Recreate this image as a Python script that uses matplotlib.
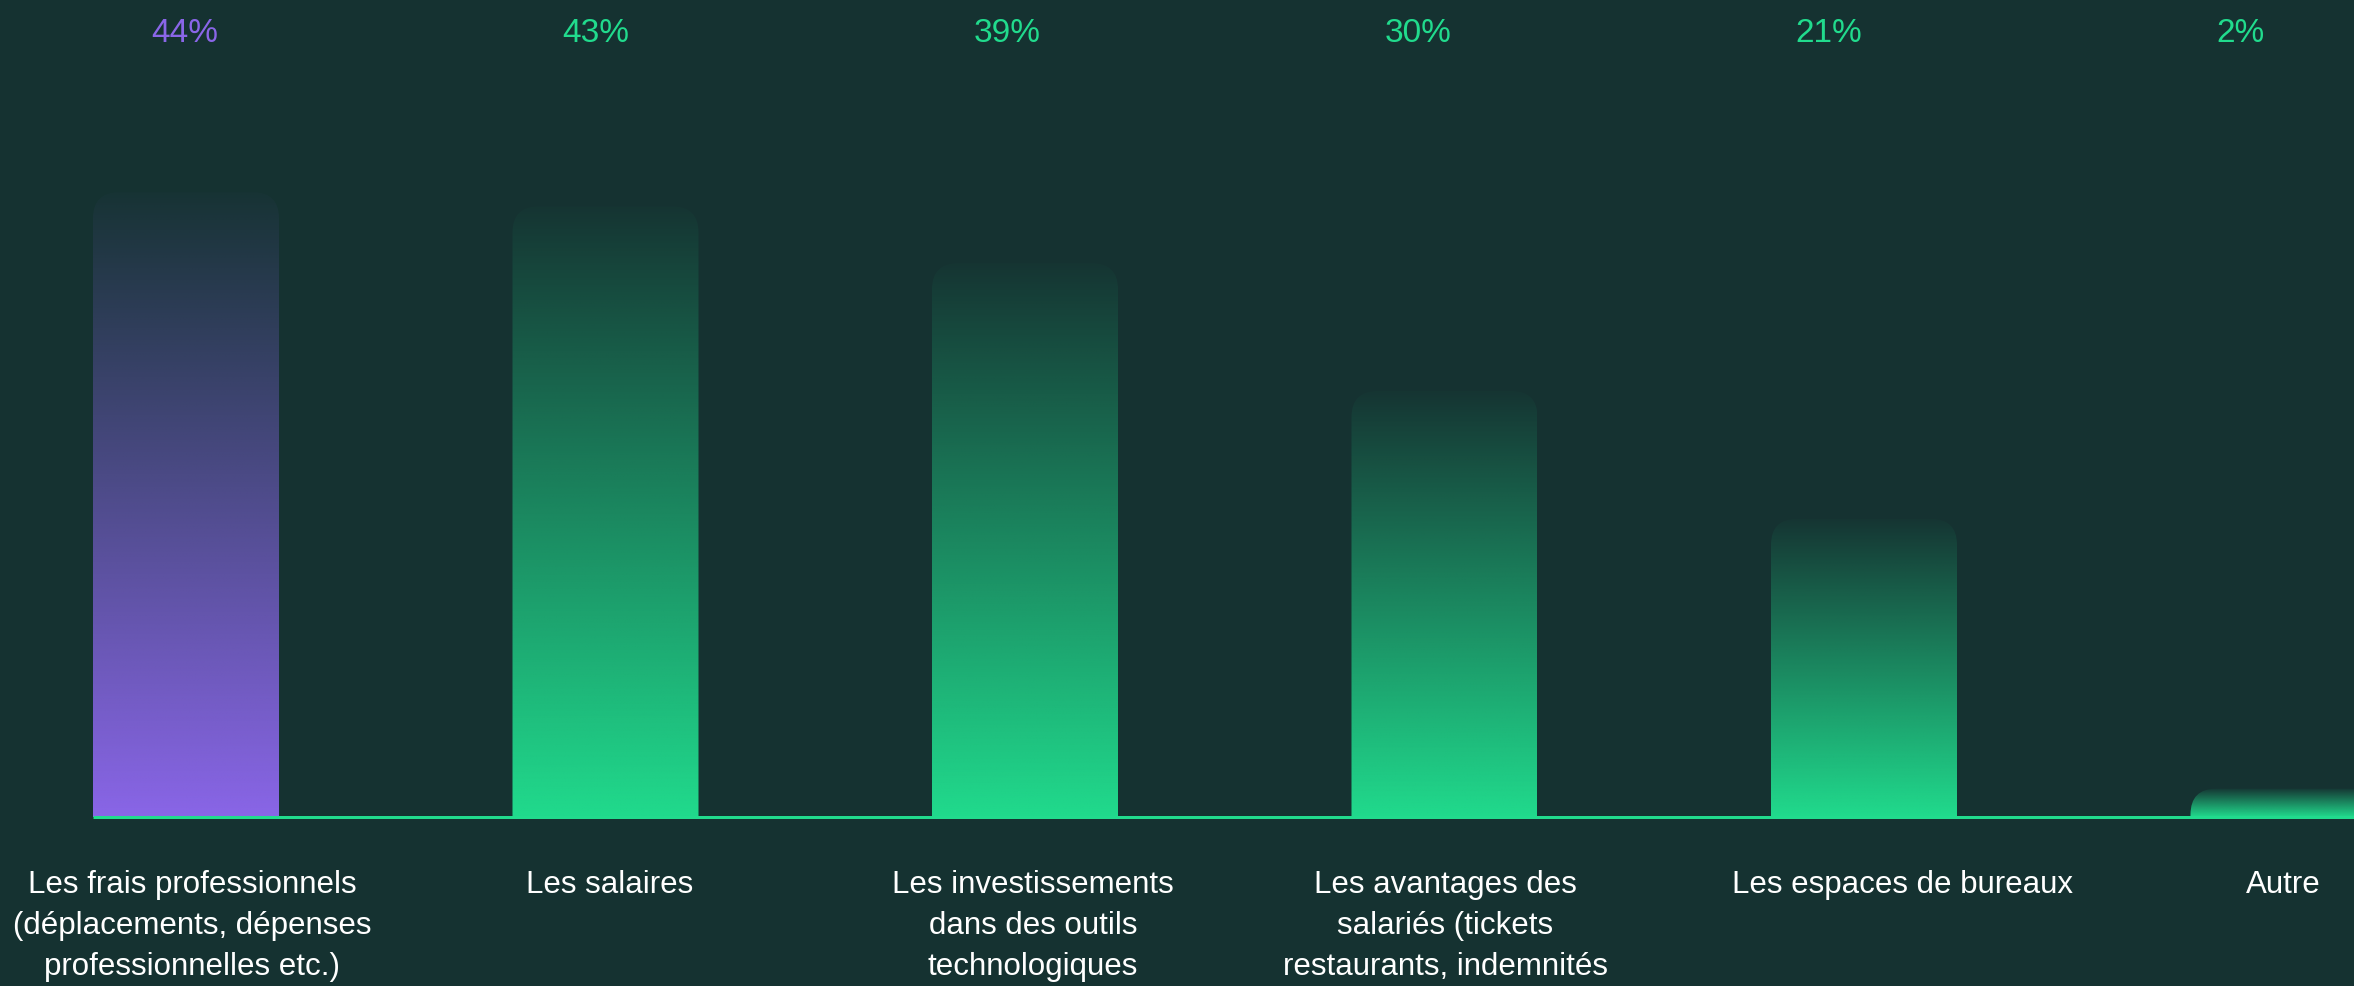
import numpy as np
import matplotlib
matplotlib.use("Agg")
import matplotlib.pyplot as plt
from matplotlib.patches import FancyBboxPatch
from matplotlib.colors import to_rgb
import matplotlib.transforms as mtransforms

# ---------------- data ----------------
categories = [
    "Les frais professionnels\n(déplacements, dépenses\nprofessionnelles etc.)",
    "Les salaires",
    "Les investissements\ndans des outils\ntechnologiques",
    "Les avantages des\nsalariés (tickets\nrestaurants, indemnités",
    "Les espaces de bureaux",
    "Autre",
]
values = [44, 43, 39, 30, 21, 2]
value_labels = ["44%", "43%", "39%", "30%", "21%", "2%"]
highlight = [True, False, False, False, False, False]

# ---------------- style ----------------
BG = "#153231"
PURPLE = "#8A66E8"
GREEN = "#21DB8D"
WHITE = "#FFFFFF"
FONT = ["Liberation Sans", "DejaVu Sans"]

W, H, DPI = 2354, 986, 100
slot_px = 419.5        # distance between bar centres
first_center_px = 186  # centre of first bar
bar_px = 186           # bar width
base_px = 169          # baseline, from bottom
unit_px = 14.2         # pixels per percent
radius_px = 26

pct_first_px = 185
pct_step_px = 411
pct_y_px = 34          # from top
label_top_px = 870     # top of first text line, from top
label_dx_px = [6, 4, 8, 1, 39, 0]

plt.rcParams["font.family"] = FONT

fig = plt.figure(figsize=(W / DPI, H / DPI), dpi=DPI, facecolor=BG)
ax = fig.add_axes([0, 0, 1, 1])
ax.set_facecolor(BG)
ax.set_axis_off()
ax.set_xlim(-first_center_px / slot_px, (W - first_center_px) / slot_px)
ax.set_ylim(-base_px / unit_px, (H - base_px) / unit_px)

bar_w = bar_px / slot_px
rx = radius_px / slot_px
ry = radius_px / unit_px

for i, (v, hl) in enumerate(zip(values, highlight)):
    color = PURPLE if hl else GREEN
    rgba = np.zeros((256, 1, 4))
    rgba[..., :3] = to_rgb(color)
    rgba[:, 0, 3] = np.linspace(1.0, 0.02, 256)
    x0, x1 = i - bar_w / 2, i + bar_w / 2
    im = ax.imshow(rgba, extent=(x0, x1, 0, v), origin="lower",
                   aspect="auto", interpolation="bilinear", zorder=2)
    clip = FancyBboxPatch((x0, -ry), bar_w, v + ry,
                          boxstyle=f"round,pad=0,rounding_size={rx}",
                          mutation_aspect=ry / rx, transform=ax.transData,
                          facecolor="none", edgecolor="none")
    ax.add_patch(clip)
    im.set_clip_path(clip)

xmin, xmax = ax.get_xlim()
ax.plot([-bar_w / 2, xmax], [0, 0], color=GREEN, lw=3 * 72 / DPI,
        solid_capstyle="butt", zorder=3)
ax.set_xlim(xmin, xmax)
ax.set_ylim(-base_px / unit_px, (H - base_px) / unit_px)

# category labels
lab_tr = mtransforms.blended_transform_factory(ax.transData, fig.transFigure)
for i, (c, dx) in enumerate(zip(categories, label_dx_px)):
    ax.text(i + dx / slot_px, 1 - label_top_px / H, c, transform=lab_tr,
            ha="center", va="top", multialignment="center",
            color=WHITE, fontsize=22.5, linespacing=1.47, family=FONT)

# percentage labels (own horizontal scale)
ax2 = fig.add_axes([0, 0, 1, 1], facecolor="none")
ax2.set_axis_off()
ax2.set_xlim(-pct_first_px / pct_step_px, (W - pct_first_px) / pct_step_px)
ax2.set_ylim(0, 1)
for i, (t, hl) in enumerate(zip(value_labels, highlight)):
    ax2.text(i, 1 - pct_y_px / H, t, ha="center", va="center",
             color=PURPLE if hl else GREEN, fontsize=24, family=FONT)

fig.savefig("out.png", dpi=DPI, facecolor=BG)
